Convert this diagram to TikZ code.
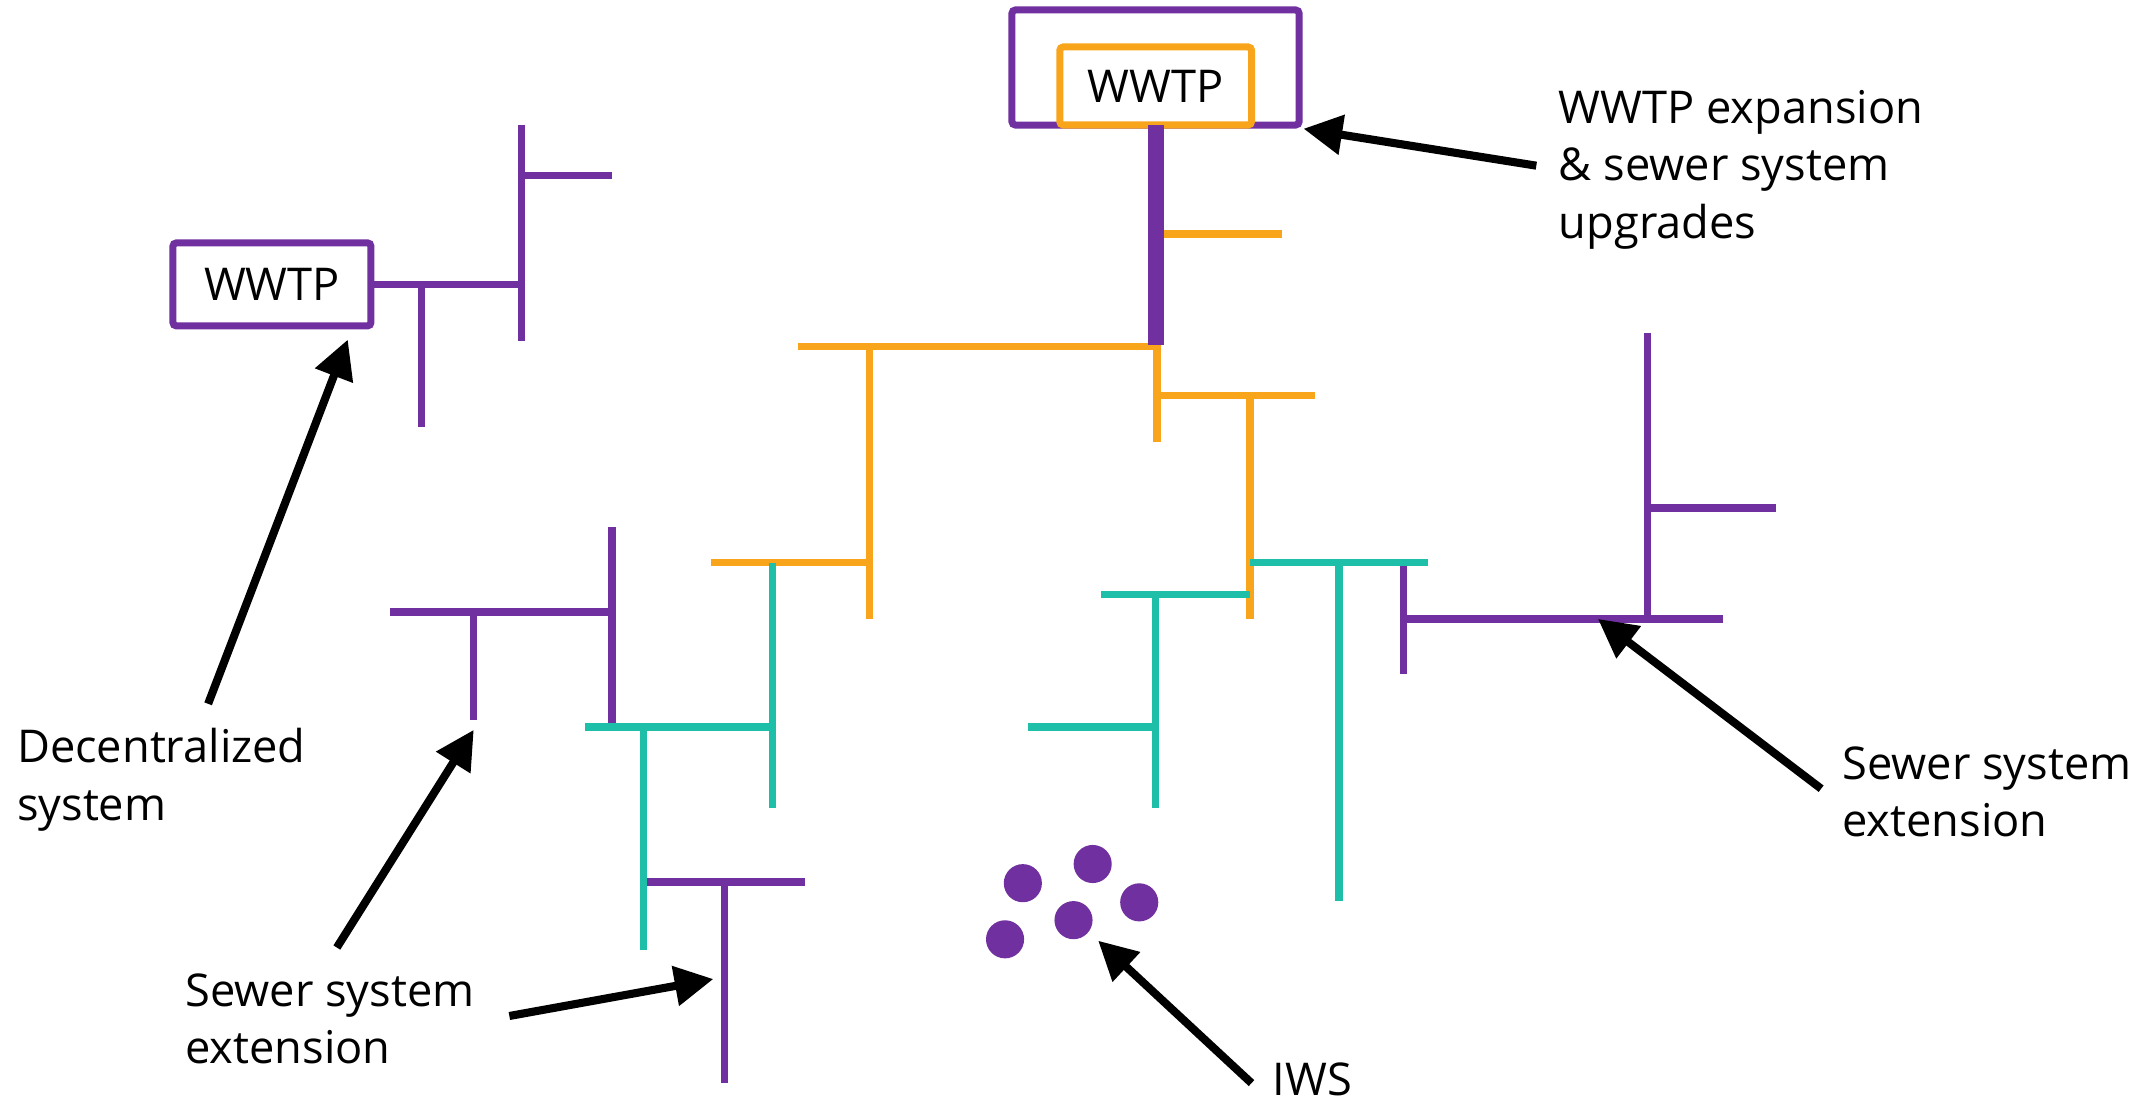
\documentclass[tikz,border=0pt]{standalone}
\usepackage{fontspec}
\setmainfont{Open Sans}
\usetikzlibrary{arrows.meta}
\definecolor{pur}{HTML}{7030A0}
\definecolor{org}{HTML}{F9A51B}
\definecolor{tea}{HTML}{1EBFA8}
\begin{document}
\begin{tikzpicture}[x=0.013693cm,y=-0.013693cm,
  pipe/.style={line width=2.1pt},
  pp/.style={pipe,draw=pur},
  op/.style={pipe,draw=org},
  tp/.style={pipe,draw=tea},
  trunk/.style={line width=4.3pt,draw=pur},
  plant/.style={draw=pur,line width=2pt,rounded corners=1pt,inner sep=0pt},
  lbl/.style={font=\fontsize{12.85pt}{16.4pt}\selectfont,anchor=base west,inner sep=0pt},
  dot/.style={circle,fill=pur,minimum size=0.381cm,inner sep=0pt},
  callout/.style={line width=2.3pt,draw=black,-{Triangle[length=11pt,width=11pt]}}]
\useasboundingbox (0,0) rectangle (1568,806);

% ---- top WWTP ----
\node[plant,minimum width=2.871cm,minimum height=1.150cm] (outer) at (843.9,49.3) {};
\node[plant,draw=org,fill=white,minimum width=1.917cm,minimum height=0.780cm,
      font=\fontsize{12.85pt}{16.4pt}\selectfont] (wwtpA) at (844,62.8) {WWTP};

% ---- orange network ----
\draw[op] (844,171) -- (936,171);
\draw[op] (583,253) -- (847.5,253);
\draw[op] (845,250.5) -- (845,323);
\draw[op] (845,289) -- (960,289);
\draw[op] (913,289) -- (913,452);
\draw[op] (635,253) -- (635,452);
\draw[op] (519,411) -- (637,411);
\draw[trunk] (844.2,91.3) -- (844.2,252);

% ---- left WWTP ----
\node[plant,minimum width=1.98cm,minimum height=0.83cm,
      font=\fontsize{12.85pt}{16.4pt}\selectfont] (wwtpB) at (198.6,207.7) {WWTP};
\draw[pp] (wwtpB.east) -- (381,207.7);
\draw[pp] (381,91) -- (381,249);
\draw[pp] (381,128) -- (447,128);
\draw[pp] (308,207.7) -- (308,312);

% ---- purple extensions ----
\draw[pp] (285,447) -- (447,447);
\draw[pp] (447,385) -- (447,531);
\draw[pp] (346,447) -- (346,526);
\draw[pp] (470,644) -- (588,644);
\draw[pp] (529,644) -- (529,791);
\draw[pp] (1203,243) -- (1203,452);
\draw[pp] (1203,371) -- (1297,371);
\draw[pp] (1025,452) -- (1258,452);
\draw[pp] (1025,411) -- (1025,492);

% ---- teal network ----
\draw[tp] (564,411) -- (564,590);
\draw[tp] (427,531) -- (566.5,531);
\draw[tp] (470,531) -- (470,694);
\draw[tp] (804,434) -- (913,434);
\draw[tp] (844,434) -- (844,590);
\draw[tp] (751,531) -- (844,531);
\draw[tp] (913,411) -- (1043,411);
\draw[tp] (978,411) -- (978,658);

% ---- IWS dots ----
\node[dot] (d1) at (747,645) {};
\node[dot] (d2) at (798,631) {};
\node[dot] (d3) at (832,659) {};
\node[dot] (d4) at (784,672) {};
\node[dot] (d5) at (734,686) {};

% ---- labels ----
\node[lbl] (la1) at (1138,90) {WWTP expansion};
\node[lbl] (la2) at (1138,132) {\& sewer system};
\node[lbl] (la3) at (1138,174) {upgrades};
\node[lbl] (lb1) at (12,557) {Decentralized};
\node[lbl] (lb2) at (12,599) {system};
\node[lbl] (lc1) at (1345,569) {Sewer system};
\node[lbl] (lc2) at (1345,611) {extension};
\node[lbl] (ld1) at (135,735) {Sewer system};
\node[lbl] (ld2) at (135,777) {extension};
\node[lbl] (le1) at (929,800) {IWS};

% ---- callouts ----
\coordinate (ta) at (1122,121);  \coordinate (ha) at (952,94);
\coordinate (tb) at (152,514);   \coordinate (hb) at (254,248);
\coordinate (tc) at (1330,576);  \coordinate (hc) at (1167,452);
\coordinate (td) at (246,692);   \coordinate (hd) at (346,533);
\coordinate (te) at (372,742);   \coordinate (he) at (521,715);
\coordinate (tf) at (914,791);   \coordinate (hf) at (802,687);
\draw[callout] (ta) -- (ha);
\draw[callout] (tb) -- (hb);
\draw[callout] (tc) -- (hc);
\draw[callout] (td) -- (hd);
\draw[callout] (te) -- (he);
\draw[callout] (tf) -- (hf);
\end{tikzpicture}
\end{document}
